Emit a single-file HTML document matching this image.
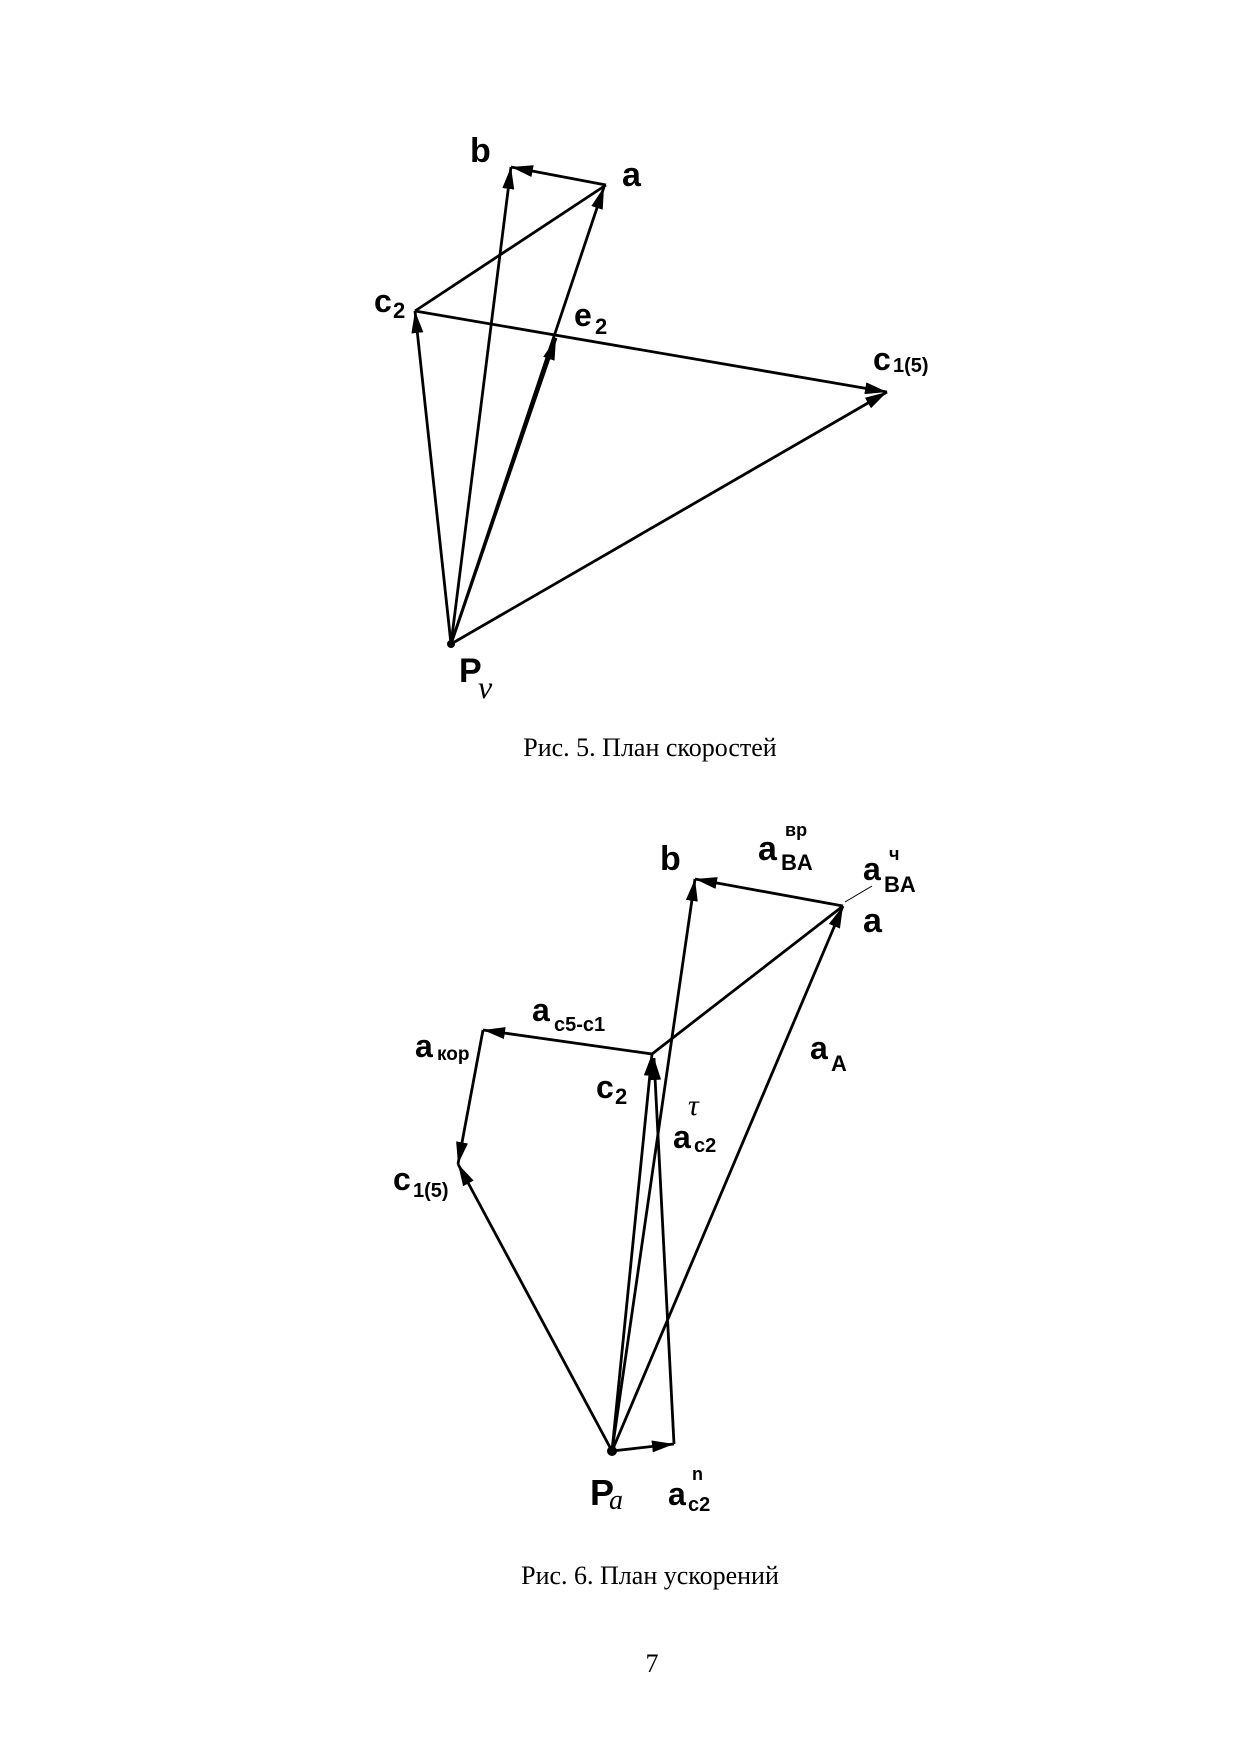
<!DOCTYPE html>
<html><head><meta charset="utf-8"><style>
html,body{margin:0;padding:0;background:#fff;}
svg{display:block;}
.l{font-family:"Liberation Sans",sans-serif;fill:#000;font-weight:bold;}
.cap{font-family:"Liberation Serif",serif;font-size:26px;fill:#000;}
</style></head><body>
<svg width="1241" height="1754" viewBox="0 0 1241 1754" xmlns="http://www.w3.org/2000/svg">
<defs>
<marker id="ar" viewBox="0 0 22 12" refX="22" refY="6" markerWidth="22" markerHeight="12" markerUnits="userSpaceOnUse" orient="auto">
<path d="M0,0 L22,6 L0,12 Z" fill="#000"/></marker>
</defs>
<g stroke="#000" stroke-width="2.8" fill="none">
<!-- velocity plan -->
<line x1="451" y1="644" x2="511" y2="167" marker-end="url(#ar)"/>
<line x1="606" y1="185" x2="511" y2="167" marker-end="url(#ar)"/>
<line x1="451" y1="644" x2="604" y2="187" marker-end="url(#ar)"/>
<line x1="451" y1="644" x2="556" y2="338" marker-end="url(#ar)"/>
<line x1="606" y1="185" x2="415" y2="311"/>
<line x1="451" y1="644" x2="415" y2="311" marker-end="url(#ar)"/>
<line x1="415" y1="311" x2="887" y2="392" marker-end="url(#ar)"/>
<line x1="451" y1="644" x2="887" y2="392" marker-end="url(#ar)"/>
<!-- acceleration plan -->
<line x1="612" y1="1451" x2="843" y2="906" marker-end="url(#ar)"/>
<line x1="843" y1="906" x2="695" y2="879" marker-end="url(#ar)"/>
<line x1="612" y1="1451" x2="695" y2="879" marker-end="url(#ar)"/>
<line x1="843" y1="906" x2="652" y2="1054"/>
<line x1="652" y1="1054" x2="483" y2="1030" marker-end="url(#ar)"/>
<line x1="483" y1="1030" x2="458" y2="1164" marker-end="url(#ar)"/>
<line x1="612" y1="1451" x2="458" y2="1164" marker-end="url(#ar)"/>
<line x1="612" y1="1451" x2="652" y2="1054" marker-end="url(#ar)"/>
<line x1="612" y1="1451" x2="674" y2="1444" marker-end="url(#ar)"/>
<line x1="674" y1="1444" x2="654" y2="1058" marker-end="url(#ar)"/>
</g>
<line x1="845" y1="902" x2="872" y2="886" stroke="#000" stroke-width="1"/>
<circle cx="451" cy="644" r="4" fill="#000"/>
<circle cx="612" cy="1451" r="5" fill="#000"/>

<!-- velocity labels -->
<text class="l" x="470" y="162" font-size="34">b</text>
<text class="l" x="622" y="186" font-size="34">a</text>
<text class="l" x="374" y="312" font-size="32">c</text>
<text class="l" x="393" y="318" font-size="22">2</text>
<text class="l" x="574" y="326" font-size="32">e</text>
<text class="l" x="595" y="334" font-size="22">2</text>
<text class="l" x="873" y="370" font-size="32">c</text>
<text class="l" x="893" y="372" font-size="20">1(5)</text>
<text class="l" x="459" y="682" font-size="34" font-weight="normal">P</text>
<text x="478" y="698" font-size="32" font-style="italic" font-family="Liberation Serif,serif">v</text>
<text class="cap" x="650" y="756" text-anchor="middle">Рис. 5. План скоростей</text>

<!-- acceleration labels -->
<text class="l" x="660" y="870" font-size="34">b</text>
<text class="l" x="758" y="860" font-size="34">a</text>
<text class="l" x="781" y="870" font-size="22">BA</text>
<text class="l" x="785" y="836" font-size="18">вр</text>
<text class="l" x="863" y="880" font-size="32">a</text>
<text class="l" x="884" y="892" font-size="22">BA</text>
<text class="l" x="889" y="860" font-size="18">ч</text>
<text class="l" x="863" y="932" font-size="34">a</text>
<text class="l" x="532" y="1021" font-size="32">a</text>
<text class="l" x="554" y="1031" font-size="20">c5-c1</text>
<text class="l" x="415" y="1057" font-size="32">a</text>
<text class="l" x="437" y="1060" font-size="19">кор</text>
<text class="l" x="596" y="1098" font-size="32">c</text>
<text class="l" x="615" y="1104" font-size="22">2</text>
<text class="l" x="673" y="1148" font-size="32">a</text>
<text class="l" x="694" y="1152" font-size="20">c2</text>
<text x="688" y="1115" font-size="30" font-style="italic" font-family="Liberation Serif,serif">τ</text>
<text class="l" x="810" y="1059" font-size="32">a</text>
<text class="l" x="831" y="1071" font-size="22">A</text>
<text class="l" x="393" y="1190" font-size="32">c</text>
<text class="l" x="413" y="1197" font-size="20">1(5)</text>
<text class="l" x="590" y="1505" font-size="36" font-weight="normal">P</text>
<text x="609" y="1509" font-size="28" font-style="italic" font-family="Liberation Serif,serif">a</text>
<text class="l" x="668" y="1505" font-size="32">a</text>
<text class="l" x="688" y="1511" font-size="20">c2</text>
<text class="l" x="692" y="1480" font-size="18">n</text>
<text class="cap" x="650" y="1584" text-anchor="middle">Рис. 6. План ускорений</text>
<text class="cap" x="652" y="1672" text-anchor="middle">7</text>
</svg>
</body></html>
